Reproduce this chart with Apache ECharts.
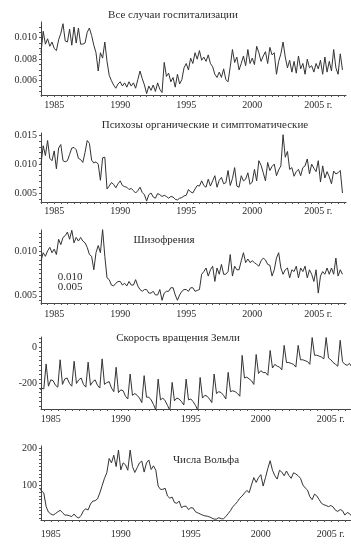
<!DOCTYPE html>
<html>
<head>
<meta charset="utf-8">
<script src="https://cdn.jsdelivr.net/npm/echarts@6/dist/echarts.min.js"></script>
<style>
  html, body { margin: 0; padding: 0; background: #fff; }
  #chart { width: 351px; height: 553px; }
</style>
</head>
<body>
<div id="chart"></div>
<script>
// samples every two months, starting January 1984
const startYear = 1984;
const perYear = 6;

const hospAll = [
  0.0086, 0.0106, 0.0094, 0.0099, 0.0092, 0.0096,
  0.0090, 0.0088, 0.0098, 0.0104, 0.0113, 0.0097,
  0.0096, 0.0108, 0.0093, 0.0110, 0.0095, 0.0109,
  0.0094, 0.0094, 0.0095, 0.0105, 0.0109, 0.0102,
  0.0093, 0.0086, 0.0069, 0.0086, 0.0081, 0.0096,
  0.0078, 0.0065, 0.0060, 0.0056, 0.0053, 0.0057,
  0.0059, 0.0055, 0.0058, 0.0054, 0.0059, 0.0055,
  0.0058, 0.0053, 0.0061, 0.0069, 0.0062, 0.0056,
  0.0048, 0.0055, 0.0051, 0.0056, 0.0050, 0.0058,
  0.0052, 0.0049, 0.0077, 0.0064, 0.0067, 0.0059,
  0.0063, 0.0054, 0.0066, 0.0057, 0.0061, 0.0072,
  0.0076, 0.0070, 0.0081, 0.0076, 0.0086, 0.0080,
  0.0088, 0.0079, 0.0082, 0.0078, 0.0084, 0.0076,
  0.0073, 0.0066, 0.0063, 0.0068, 0.0063, 0.0071,
  0.0061, 0.0059, 0.0073, 0.0089, 0.0077, 0.0082,
  0.0070, 0.0076, 0.0083, 0.0074, 0.0089, 0.0076,
  0.0081, 0.0075, 0.0092, 0.0086, 0.0078, 0.0083,
  0.0087, 0.0076, 0.0091, 0.0084, 0.0086, 0.0066,
  0.0078, 0.0085, 0.0096, 0.0082, 0.0072, 0.0079,
  0.0068, 0.0078, 0.0067, 0.0083, 0.0071, 0.0076,
  0.0066, 0.0080, 0.0072, 0.0074, 0.0068, 0.0076,
  0.0071, 0.0079, 0.0066, 0.0082, 0.0068, 0.0078,
  0.0069, 0.0089, 0.0072, 0.0066, 0.0085, 0.0070
];

const organic = [
  0.0100, 0.0132, 0.0115, 0.0141, 0.0110, 0.0106,
  0.0123, 0.0092, 0.0128, 0.0134, 0.0106, 0.0104,
  0.0106, 0.0117, 0.0128, 0.0129, 0.0125, 0.0110,
  0.0108, 0.0103, 0.0120, 0.0141, 0.0136, 0.0107,
  0.0102, 0.0104, 0.0100, 0.0072, 0.0111, 0.0112,
  0.0057, 0.0062, 0.0068, 0.0065, 0.0059, 0.0066,
  0.0071, 0.0063, 0.0061, 0.0060, 0.0056, 0.0058,
  0.0054, 0.0050, 0.0054, 0.0060, 0.0051, 0.0047,
  0.0036, 0.0047, 0.0050, 0.0043, 0.0041, 0.0049,
  0.0047, 0.0044, 0.0046, 0.0044, 0.0041, 0.0044,
  0.0043, 0.0039, 0.0038, 0.0041, 0.0042, 0.0045,
  0.0046, 0.0056, 0.0052, 0.0050, 0.0057, 0.0063,
  0.0062, 0.0071, 0.0063, 0.0060, 0.0074, 0.0062,
  0.0071, 0.0080, 0.0060, 0.0072, 0.0077, 0.0066,
  0.0068, 0.0089, 0.0063, 0.0075, 0.0094, 0.0062,
  0.0060, 0.0080, 0.0071, 0.0074, 0.0085, 0.0065,
  0.0069, 0.0091, 0.0071, 0.0106, 0.0098, 0.0085,
  0.0071, 0.0103, 0.0089, 0.0096, 0.0100, 0.0080,
  0.0090, 0.0097, 0.0151, 0.0112, 0.0122, 0.0091,
  0.0094, 0.0079, 0.0087, 0.0091, 0.0080, 0.0094,
  0.0097, 0.0109, 0.0083, 0.0100, 0.0093, 0.0087,
  0.0106, 0.0069, 0.0097, 0.0076, 0.0087, 0.0078,
  0.0066, 0.0088, 0.0083, 0.0085, 0.0089, 0.0050
];

const schizo = [
  0.0089, 0.0098, 0.0094, 0.0100, 0.0104, 0.0098,
  0.0102, 0.0096, 0.0113, 0.0107, 0.0115, 0.0117,
  0.0121, 0.0113, 0.0123, 0.0109, 0.0115, 0.0111,
  0.0115, 0.0111, 0.0109, 0.0104, 0.0096, 0.0094,
  0.0079, 0.0098, 0.0106, 0.0098, 0.0124, 0.0094,
  0.0070, 0.0068, 0.0062, 0.0061, 0.0064, 0.0066,
  0.0066, 0.0062, 0.0064, 0.0061, 0.0066, 0.0062,
  0.0062, 0.0068, 0.0061, 0.0057, 0.0055, 0.0057,
  0.0057, 0.0053, 0.0053, 0.0055, 0.0051, 0.0051,
  0.0057, 0.0045, 0.0053, 0.0055, 0.0055, 0.0059,
  0.0059, 0.0051, 0.0045, 0.0051, 0.0055, 0.0057,
  0.0057, 0.0055, 0.0059, 0.0059, 0.0055, 0.0056,
  0.0057, 0.0074, 0.0077, 0.0081, 0.0072, 0.0079,
  0.0083, 0.0066, 0.0081, 0.0074, 0.0085, 0.0074,
  0.0074, 0.0077, 0.0096, 0.0072, 0.0083, 0.0079,
  0.0079, 0.0089, 0.0098, 0.0087, 0.0091, 0.0087,
  0.0089, 0.0087, 0.0085, 0.0083, 0.0089, 0.0092,
  0.0090, 0.0085, 0.0084, 0.0072, 0.0079, 0.0092,
  0.0098, 0.0081, 0.0074, 0.0079, 0.0081, 0.0070,
  0.0079, 0.0077, 0.0083, 0.0070, 0.0081, 0.0077,
  0.0083, 0.0070, 0.0079, 0.0074, 0.0066, 0.0079,
  0.0053, 0.0072, 0.0077, 0.0074, 0.0081, 0.0074,
  0.0081, 0.0074, 0.0092, 0.0072, 0.0079, 0.0074
];

const rotation = [
  -235, -240, -225, -230, -93, -215,
  -180, -185, -210, -220, -70, -205,
  -175, -170, -200, -215, -78, -200,
  -180, -170, -205, -220, -83, -210,
  -190, -180, -210, -225, -65, -205,
  -195, -190, -225, -245, -111, -250,
  -235, -240, -270, -285, -148, -265,
  -255, -265, -280, -305, -157, -275,
  -275, -290, -315, -345, -176, -290,
  -280, -295, -320, -348, -194, -295,
  -280, -285, -300, -318, -176, -290,
  -285, -300, -320, -348, -167, -280,
  -265, -270, -285, -305, -148, -255,
  -245, -250, -265, -285, -139, -245,
  -240, -245, -255, -270, -46, -170,
  -165, -175, -185, -205, -41, -145,
  -130, -140, -140, -155, -19, -115,
  -95, -105, -110, -125, 9, -85,
  -85, -90, -95, -110, 9, -70,
  -70, -75, -80, -95, 52, -45,
  -45, -50, -55, -65, 52, -60,
  -70, -85, -95, -105, 37, -80,
  -95, -100, -90, -110, -40, -90
];

const wolf = [
  95, 91, 84, 78, 41, 26,
  21, 18, 22, 27, 31, 25,
  18, 18, 16, 14, 21, 13,
  10, 17, 30, 35, 32, 48,
  56, 57, 62, 78, 98, 118,
  133, 172, 160, 181, 150, 195,
  141, 160, 155, 140, 195, 150,
  134, 147, 160, 165, 135, 160,
  168, 142, 152, 140, 97, 88,
  88, 91, 70, 64, 67, 52,
  50, 56, 38, 42, 42, 33,
  38, 37, 27, 24, 21, 18,
  16, 15, 13, 10, 7, 7,
  11, 8, 8, 14, 22, 30,
  41, 47, 55, 64, 70, 78,
  85, 79, 100, 120, 107, 120,
  128, 97, 120, 145, 166, 140,
  125, 116, 140, 135, 125, 138,
  126, 118, 133, 130, 125, 118,
  100, 92, 86, 68, 60, 75,
  70, 60, 50, 46, 44, 41,
  44, 40, 31, 28, 33, 30,
  18, 25, 22, 15, 17, 16
];

const yearTicks = [1985, 1990, 1995, 2000, 2005];
const hospTicks = [0.006, 0.008, 0.010];
const organicTicks = [0.005, 0.010, 0.015];
const schizoTicks = [0.005, 0.010];
const rotationTicks = [-200, 0];
const wolfTicks = [100, 200];

const titles = [
  'Все случаи госпитализации',
  'Психозы органические и симптоматические',
  'Шизофрения',
  'Скорость вращения Земли',
  'Числа Вольфа'
];
const insetLabels = ['0.010', '0.005'];

const FONT = '"Liberation Serif", "DejaVu Serif", serif';
const INK = '#2b2b2b';

function toPairs(values) {
    return values.map((v, i) => [startYear + i / perYear, v]);
}

function steps(from, to, step) {
    const out = [];
    const first = Math.ceil(from / step - 1e-9) * step;
    for (let v = first; v <= to + 1e-9; v += step) out.push(+v.toFixed(6));
    return out;
}

const panels = [
    { data: hospAll, ticks: hospTicks, top: 22, height: 73, right: 5, xmin: 1984, xmax: 2007.1,
      ymin: 0.00467, ymax: 0.01146, minor: 0.0005, digits: 3, xMargin: 5 },
    { data: organic, ticks: organicTicks, top: 133, height: 69, right: 5, xmin: 1984, xmax: 2007.1,
      ymin: 0.00344, ymax: 0.0154, minor: 0.001, digits: 3, xMargin: 4 },
    { data: schizo, ticks: schizoTicks, top: 230, height: 73, right: 5, xmin: 1984, xmax: 2007.1,
      ymin: 0.0042, ymax: 0.01233, minor: 0.0005, digits: 3, xMargin: 6 },
    { data: rotation, ticks: rotationTicks, top: 337, height: 72, right: 0, xmin: 1984.3, xmax: 2006.44,
      ymin: -340, ymax: 55, minor: 25, digits: 0, xMargin: 5 },
    { data: wolf, ticks: wolfTicks, top: 446, height: 74, right: 0, xmin: 1984.3, xmax: 2006.44,
      ymin: 4.6, ymax: 206, minor: 10, digits: 0, xMargin: 9 }
];

const grid = [], xAxis = [], yAxis = [], series = [];
panels.forEach((p, i) => {
    grid.push({ left: 41, right: p.right, top: p.top, height: p.height });
    xAxis.push({
        type: 'value', gridIndex: i, min: p.xmin, max: p.xmax,
        splitLine: { show: false },
        axisLine: { onZero: false, lineStyle: { color: '#444', width: 1 } },
        axisTick: { customValues: steps(p.xmin, p.xmax, 0.5), length: 2, lineStyle: { color: '#555' } },
        axisLabel: {
            customValues: yearTicks, margin: p.xMargin, color: INK, fontFamily: FONT, fontSize: 10,
            formatter: v => v === 2005 ? '2005 г.' : String(v)
        }
    });
    yAxis.push({
        type: 'value', gridIndex: i, min: p.ymin, max: p.ymax,
        splitLine: { show: false },
        axisLine: { show: true, onZero: false, lineStyle: { color: '#444', width: 1 } },
        axisTick: { customValues: steps(p.ymin, p.ymax, p.minor), length: 2, lineStyle: { color: '#555' } },
        axisLabel: {
            customValues: p.ticks, margin: 4, color: INK, fontFamily: FONT, fontSize: 10,
            formatter: v => v.toFixed(p.digits)
        }
    });
    series.push({
        type: 'line', xAxisIndex: i, yAxisIndex: i,
        data: toPairs(p.data),
        showSymbol: false, clip: true,
        lineStyle: { color: '#333', width: 1 }
    });
});

function label(text, x, y) {
    return {
        type: 'text', x: x, y: y,
        style: { text: text, fill: INK, font: '11px ' + FONT, align: 'center', verticalAlign: 'middle' }
    };
}

const chart = echarts.init(document.getElementById('chart'), null, { renderer: 'canvas' });
chart.setOption({
    animation: false,
    backgroundColor: '#fff',
    grid: grid,
    xAxis: xAxis,
    yAxis: yAxis,
    series: series,
    graphic: [
        label(titles[0], 173, 15),
        label(titles[1], 205, 125),
        label(titles[2], 164, 240),
        label(titles[3], 178, 338),
        label(titles[4], 206, 460),
        label(insetLabels[0], 70, 277),
        label(insetLabels[1], 70, 287)
    ]
});
</script>
</body>
</html>
